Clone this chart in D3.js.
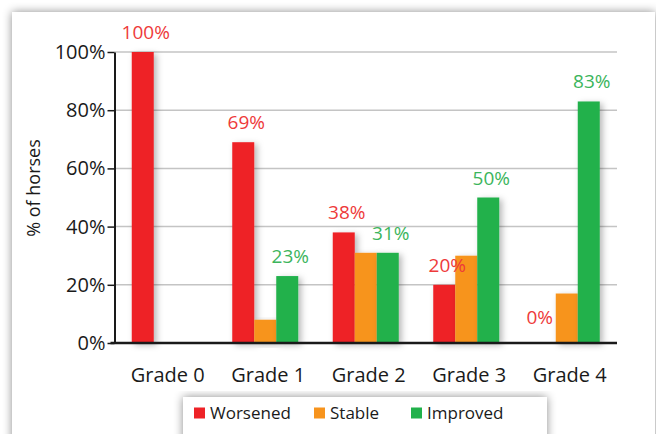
<!DOCTYPE html>
<html>
<head>
<meta charset="utf-8">
<script src="https://cdn.jsdelivr.net/npm/d3@7"></script>
<style>
  html, body { margin: 0; padding: 0; background: #fff; }
  svg { display: block; font-family: "Open Sans", sans-serif; }
</style>
</head>
<body>
<div id="chart"></div>
<script>
const grades   = ["Grade 0", "Grade 1", "Grade 2", "Grade 3", "Grade 4"];
const series   = ["Worsened", "Stable", "Improved"];
const worsened = [100, 69, 38, 20, 0];
const stable   = [0, 8, 31, 30, 17];
const improved = [0, 23, 31, 50, 83];
const yTicks   = [0, 20, 40, 60, 80, 100];

const colors   = {Worsened: "#ee2227", Stable: "#f7941d", Improved: "#21b14b"};
const txtColor = {Worsened: "#ee3a3a", Improved: "#3cb55c"};

const width = 656, height = 434;
const plot = {left: 114.5, right: 617, top: 52, bottom: 343};

const rows = grades.map((g, i) => ({
  grade: g,
  Worsened: worsened[i],
  Stable: stable[i],
  Improved: improved[i]
}));

const svg = d3.select("#chart").append("svg")
  .attr("width", width).attr("height", height);

const defs = svg.append("defs");
defs.append("filter").attr("id", "cardShadow")
    .attr("x", "-10%").attr("y", "-10%").attr("width", "120%").attr("height", "120%")
  .append("feDropShadow")
    .attr("dx", 0).attr("dy", 0).attr("stdDeviation", 5)
    .attr("flood-color", "#000").attr("flood-opacity", 0.45);
defs.append("filter").attr("id", "barShadow")
    .attr("x", "-30%").attr("y", "-10%").attr("width", "180%").attr("height", "130%")
  .append("feDropShadow")
    .attr("dx", 3).attr("dy", 2).attr("stdDeviation", 3)
    .attr("flood-color", "#000").attr("flood-opacity", 0.28);

// card
svg.append("rect")
   .attr("x", 12).attr("y", 12).attr("width", 643).attr("height", 460)
   .attr("fill", "#fff")
   .attr("filter", "url(#cardShadow)");

const x = d3.scaleBand().domain(grades).range([plot.left, plot.right]).padding(0);
const xInner = d3.scaleBand().domain(series)
  .range([17.25, x.bandwidth() - 17.25]).padding(0);
const y = d3.scaleLinear().domain([0, 100]).range([plot.bottom, plot.top]);

// gridlines
svg.append("g").selectAll("line")
  .data(yTicks.filter(d => d > 0))
  .join("line")
    .attr("x1", plot.left).attr("x2", plot.right)
    .attr("y1", d => y(d)).attr("y2", d => y(d))
    .attr("stroke", "#c4c4c4").attr("stroke-width", 1.5);

// bars
const groups = svg.append("g").selectAll("g")
  .data(rows)
  .join("g")
    .attr("transform", d => `translate(${x(d.grade)},0)`);

groups.selectAll("rect")
  .data(d => series.map(s => ({key: s, value: d[s]})).filter(d => d.value > 0))
  .join("rect")
    .attr("x", d => xInner(d.key))
    .attr("y", d => y(d.value))
    .attr("width", xInner.bandwidth())
    .attr("height", d => y(0) - y(d.value))
    .attr("fill", d => colors[d.key])
    .attr("filter", "url(#barShadow)");

// value labels (worsened always, improved where non-zero)
groups.selectAll("text")
  .data(d => [
    {key: "Worsened", value: d.Worsened},
    {key: "Improved", value: d.Improved}
  ].filter(d => d.key === "Worsened" || d.value > 0))
  .join("text")
    .attr("x", d => xInner(d.key) + xInner.bandwidth() / 2 + (d.value === 0 ? -5 : 3))
    .attr("y", d => y(d.value) - (d.value === 0 ? 19 : 13))
    .attr("text-anchor", "middle")
    .attr("font-size", 19)
    .attr("fill", d => txtColor[d.key])
    .text(d => d.value + "%");

// axes
const yAxis = svg.append("g")
  .attr("transform", `translate(${plot.left},0)`)
  .call(d3.axisLeft(y).tickValues(yTicks).tickSize(7).tickSizeOuter(0).tickPadding(2)
          .tickFormat(d => d + "%"));
yAxis.select(".domain").attr("stroke", "#1a1a1a").attr("stroke-width", 2);
yAxis.selectAll(".tick line").attr("stroke", "#1a1a1a").attr("stroke-width", 1.5);
yAxis.selectAll(".tick text")
  .attr("font-size", 20).attr("fill", "#1a1a1a")
  .attr("font-family", "Open Sans, sans-serif");

svg.append("line")
   .attr("x1", plot.left - 4).attr("x2", plot.right)
   .attr("y1", y(0)).attr("y2", y(0))
   .attr("stroke", "#1a1a1a").attr("stroke-width", 2.5);

svg.append("g").selectAll("text")
  .data(grades)
  .join("text")
    .attr("x", d => x(d) + x.bandwidth() / 2 + 3)
    .attr("y", 382)
    .attr("text-anchor", "middle")
    .attr("font-size", 20)
    .attr("fill", "#1a1a1a")
    .text(d => d);

svg.append("text")
   .attr("transform", "rotate(-90)")
   .attr("x", -188).attr("y", 40)
   .attr("text-anchor", "middle")
   .attr("font-size", 18)
   .attr("fill", "#1a1a1a")
   .text("% of horses");

// legend
const legend = svg.append("g");
legend.append("rect")
  .attr("x", 183).attr("y", 397).attr("width", 364).attr("height", 60)
  .attr("fill", "#fff")
  .attr("filter", "url(#cardShadow)");

const legX = [194, 314, 411];
const item = legend.selectAll("g.item")
  .data(series)
  .join("g").attr("class", "item")
    .attr("transform", (d, i) => `translate(${legX[i]},407.5)`);
item.append("rect")
  .attr("width", 11).attr("height", 11)
  .attr("fill", d => colors[d]);
item.append("text")
  .attr("x", 16).attr("y", 11)
  .attr("font-size", 17).attr("fill", "#1a1a1a")
  .text(d => d);
</script>
</body>
</html>
